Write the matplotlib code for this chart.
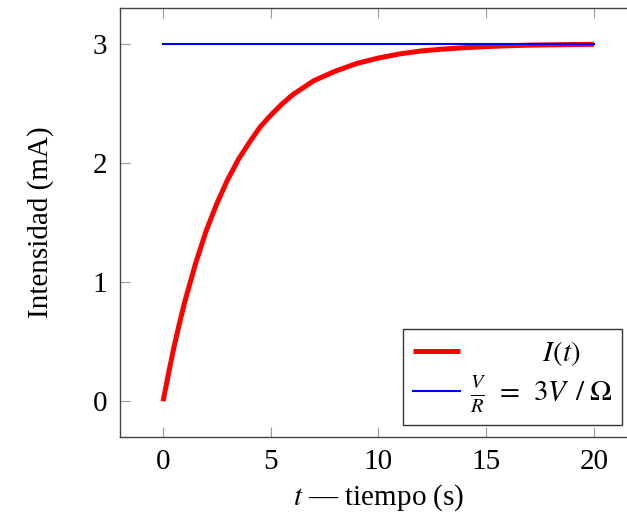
import matplotlib
matplotlib.use("Agg")
import matplotlib.pyplot as plt

# valores
t = [0, 0.25, 0.5, 0.75, 1, 1.5, 2, 2.5, 3, 3.5, 4, 4.5, 5, 5.5, 6, 6.5, 7, 8, 9, 10,
     11, 12, 13, 14, 15, 16, 17, 18, 19, 20]
intensidad = [0, 0.23, 0.45, 0.645, 0.83, 1.15, 1.43, 1.66, 1.86, 2.03, 2.17, 2.30, 2.40, 2.49,
              2.57, 2.63, 2.69, 2.77, 2.835, 2.88, 2.915, 2.94, 2.955, 2.967, 2.976, 2.983,
              2.988, 2.991, 2.993, 2.995]
t_ref = [0, 20]
v_sobre_r = [3, 3]

plt.rcParams['font.family'] = ['Liberation Serif', 'DejaVu Serif']
plt.rcParams['mathtext.fontset'] = 'stix'
plt.rcParams['font.size'] = 21

fig = plt.figure(figsize=(6.27, 5.18), dpi=100)
ax = fig.add_axes([0.1914, 0.1564, 0.8245, 0.8282])

ax.plot(t, intensidad, color='red', lw=3.6, label='          $I(t)$', solid_capstyle='butt')
ax.plot(t_ref, v_sobre_r, color='blue', lw=1.5,
        label=r'$\frac{V}{R}\;\,=\;\,3V\;\,/\;\Omega$')

ax.set_xlim(-2, 22)
ax.set_ylim(-0.3, 3.3)
ax.set_xticks([0, 5, 10, 15, 20])
ax.set_yticks([0, 1, 2, 3])
ax.tick_params(direction='in', length=7, color='#999999', top=True, right=True, labelsize=21, pad=9)
for s in ax.spines.values():
    s.set_color('#444444')
    s.set_linewidth(1.0)

ax.set_xlabel('$t$ — tiempo (s)', fontsize=21, labelpad=5)
ax.set_ylabel('Intensidad (mA)', fontsize=21, labelpad=28)

leg = ax.legend(loc='lower right', bbox_to_anchor=(0.971, 0.028), borderaxespad=0, fancybox=False,
                edgecolor='#333333', framealpha=1, handlelength=1.6, borderpad=0.35, labelspacing=0.2,
                handletextpad=0.35, fontsize=21)
leg.get_frame().set_linewidth(1.0)

fig.savefig('out.png', dpi=100)
